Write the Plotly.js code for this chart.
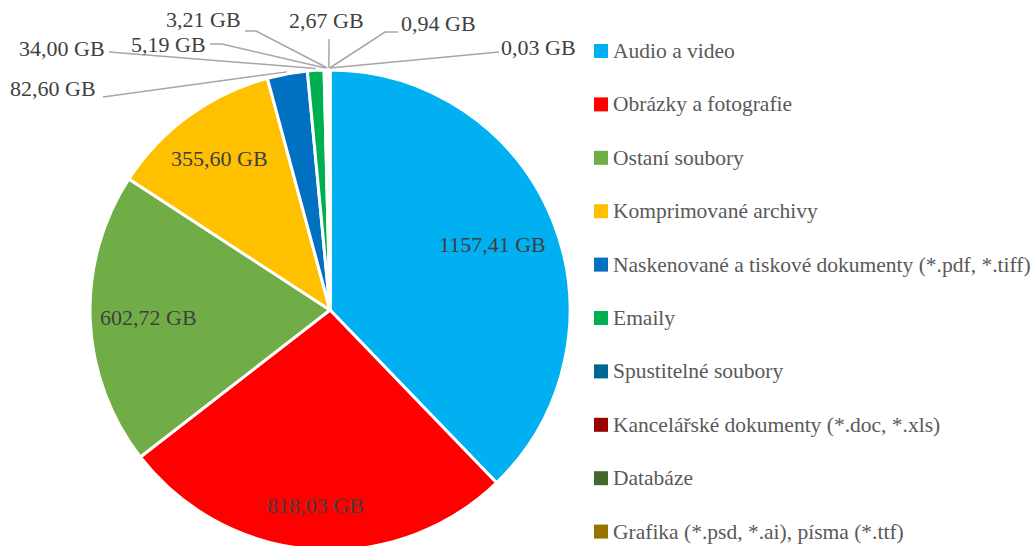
<!DOCTYPE html>
<html>
<head>
<meta charset="utf-8">
<script src="https://cdn.plot.ly/plotly-3.0.1.min.js"></script>
<style>
html, body { margin: 0; padding: 0; overflow: hidden; background: #ffffff; }
#chart { width: 1036px; height: 560px; }
</style>
</head>
<body>
<div id="chart"></div>
<script>
// ---- data ----
const categories = [
  "Audio a video",
  "Obrázky a fotografie",
  "Ostaní soubory",
  "Komprimované archivy",
  "Naskenované a tiskové dokumenty (*.pdf, *.tiff)",
  "Emaily",
  "Spustitelné soubory",
  "Kancelářské dokumenty (*.doc, *.xls)",
  "Databáze",
  "Grafika (*.psd, *.ai), písma (*.ttf)",
  "Zdrojové kódy"
];
const valuesGB = [1157.41, 818.03, 602.72, 355.60, 82.60, 34.00, 5.19, 3.21, 2.67, 0.94, 0.03];
const unit = " GB";

// ---- styles ----
const sliceColors = ["#00B0F0", "#FF0000", "#70AD47", "#FFC000", "#0070C0", "#00B050",
                     "#00668F", "#990000", "#43682B", "#997300", "#264478"];
const W = 1036, H = 560;
const pieCx = 330, pieCy = 310, pieR = 240;
const fontFam = "Liberation Serif, Times New Roman, serif";
const labelColor = "#404040";
const legendColor = "#595959";
const labelSize = 22;
const legendSize = 21.5;
// inside label radial factor (fraction of radius) for the large slices, null = outside label
const insideFactor = [0.728, 0.816, 0.758, 0.78, null, null, null, null, null, null, null];
// outside label placement: text centre and leader start (+ optional elbow), in pixels
const outsideText = {
  4: {tx: 53, ty: 88, pts: [[103, 97]]},
  5: {tx: 62, ty: 48, pts: [[109, 52]]},
  6: {tx: 168, ty: 44, pts: [[210, 44], [222, 44]]},
  7: {tx: 203, ty: 20, pts: [[245, 31], [256, 31]]},
  8: {tx: 326, ty: 21, pts: [[329, 39]]},
  9: {tx: 438, ty: 24, pts: [[398, 32], [385, 32]]},
  10: {tx: 538, ty: 47, pts: [[499, 52]]}
};
const legendX = 594, legendY0 = 51, legendStep = 53.4, legendBox = 14;

const px = x => x / W;
const py = y => (H - y) / H;
const fmt = v => v.toFixed(2).replace('.', ',') + unit;

const total = valuesGB.reduce((a, b) => a + b, 0);
const annotations = [];
const shapes = [];
let cum = 0;
valuesGB.forEach((v, i) => {
  const mid = (cum + v / 2) / total * 2 * Math.PI;
  cum += v;
  if (insideFactor[i] !== null) {
    const rr = pieR * insideFactor[i];
    annotations.push({
      x: px(pieCx + rr * Math.sin(mid)), y: py(pieCy - rr * Math.cos(mid)),
      xref: 'paper', yref: 'paper', text: fmt(v), showarrow: false,
      xanchor: 'center', yanchor: 'middle',
      font: {family: fontFam, size: labelSize, color: labelColor}
    });
  } else {
    const o = outsideText[i];
    annotations.push({
      x: px(o.tx), y: py(o.ty), xref: 'paper', yref: 'paper', text: fmt(v),
      showarrow: false, xanchor: 'center', yanchor: 'middle',
      font: {family: fontFam, size: labelSize, color: labelColor}
    });
    const ex = pieCx + (pieR + 2) * Math.sin(mid);
    const ey = pieCy - (pieR + 2) * Math.cos(mid);
    let path = 'M ' + o.pts.map(p => px(p[0]) + ' ' + py(p[1])).join(' L ') + ' L ' + px(ex) + ' ' + py(ey);
    shapes.push({type: 'path', xref: 'paper', yref: 'paper', path: path,
                 line: {color: '#A6A6A6', width: 1.5}});
  }
});

// custom legend
categories.forEach((c, i) => {
  const cy = legendY0 + i * legendStep;
  if (cy + legendBox / 2 > H - 10) return;
  shapes.push({type: 'rect', xref: 'paper', yref: 'paper',
    x0: px(legendX), x1: px(legendX + legendBox), y0: py(cy + legendBox / 2), y1: py(cy - legendBox / 2),
    fillcolor: sliceColors[i], line: {width: 0}});
  annotations.push({x: px(legendX + legendBox + 3), y: py(cy), xref: 'paper', yref: 'paper',
    text: c, showarrow: false, xanchor: 'left', yanchor: 'middle',
    font: {family: fontFam, size: legendSize, color: legendColor}});
});

const trace = {
  type: 'pie',
  labels: categories,
  values: valuesGB,
  sort: false,
  direction: 'clockwise',
  rotation: 0,
  textinfo: 'none',
  hoverinfo: 'label+value',
  marker: {colors: sliceColors, line: {color: '#ffffff', width: 3}},
  domain: {x: [px(pieCx - pieR), px(pieCx + pieR)], y: [py(pieCy + pieR), py(pieCy - pieR)]}
};

const layout = {
  width: W, height: H,
  margin: {l: 0, r: 0, t: 0, b: 0},
  showlegend: false,
  paper_bgcolor: '#ffffff',
  annotations: annotations,
  shapes: shapes
};

Plotly.newPlot('chart', [trace], layout, {displayModeBar: false, staticPlot: true});
</script>
</body>
</html>
